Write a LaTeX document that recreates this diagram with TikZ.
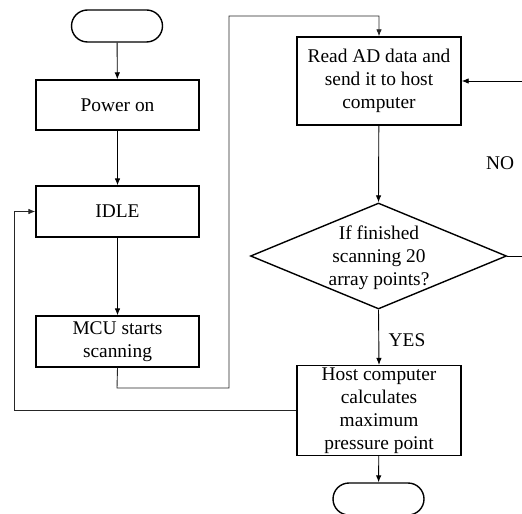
\documentclass[tikz,border=0pt]{standalone}
\usepackage{fontspec}
\setmainfont{Liberation Serif}
\usetikzlibrary{shapes.geometric,arrows.meta}
\begin{document}
\begin{tikzpicture}[x=0.5pt,y=-0.5pt,
  font=\fontsize{9.7pt}{11.5pt}\selectfont,
  box/.style={draw,line width=0.7pt,minimum width=81.5pt,inner sep=1pt,align=center},
  term/.style={draw,line width=0.7pt,rounded corners=8pt,minimum width=45.5pt,minimum height=16pt,inner sep=0pt},
  flow/.style={line width=0.45pt,-{Latex[length=3.5pt,width=2.8pt]}},
  loop/.style={line width=0.45pt,draw=black!85,-{Latex[length=3.5pt,width=2.8pt]}},
  lab/.style={inner sep=0pt}]
\useasboundingbox (0,0) rectangle (522,513);
\clip (0,0) rectangle (522,513);
\node[term] (start) at (117,26) {};
\node[box,minimum height=25pt] (power) at (117.5,105) {Power on};
\node[box,minimum height=25.5pt] (idle) at (117.5,211.5) {IDLE};
\node[box,minimum height=25.5pt] (mcu) at (117.5,341.5) {MCU starts\\scanning};
\node[box,minimum width=82pt,minimum height=44pt] (read) at (379,81) {Read AD data and\\send it to host\\computer};
\node[draw,diamond,line width=0.7pt,minimum width=128pt,minimum height=53pt,inner sep=0pt] (dec) at (378.5,256) {};
\node[lab,align=center] (dectext) at (379,258) {If finished\\scanning 20\\array points?};
\node[box,minimum width=82pt,minimum height=43.5pt] (host) at (379,410.5) {Host computer\\calculates\\maximum\\pressure point};
\node[term] (stop) at (378.5,499) {};
\node[lab] (no) at (500,163) {NO};
\node[lab] (yes) at (407,340) {YES};
\coordinate (m1) at (117,388);
\coordinate (m2) at (229,388);
\coordinate (m3) at (229,16);
\coordinate (m4) at (379,16);
\coordinate (n1) at (545,256);
\coordinate (n2) at (545,81);
\coordinate (h1) at (14,410.5);
\coordinate (h2) at (14,211.5);
\draw[flow] (start) -- (power);
\draw[flow] (power) -- (idle);
\draw[flow] (idle) -- (mcu);
\draw[loop] (mcu.south) -- (m1) -- (m2) -- (m3) -- (m4) -- (read.north);
\draw[flow] (read) -- (dec.north);
\draw[flow] (dec.east) -- (n1) -- (n2) -- (read.east);
\draw[flow] (dec.south) -- (host.north);
\draw[loop] (host.west) -- (h1) -- (h2) -- (idle.west);
\draw[flow] (host) -- (stop);
\end{tikzpicture}
\end{document}
